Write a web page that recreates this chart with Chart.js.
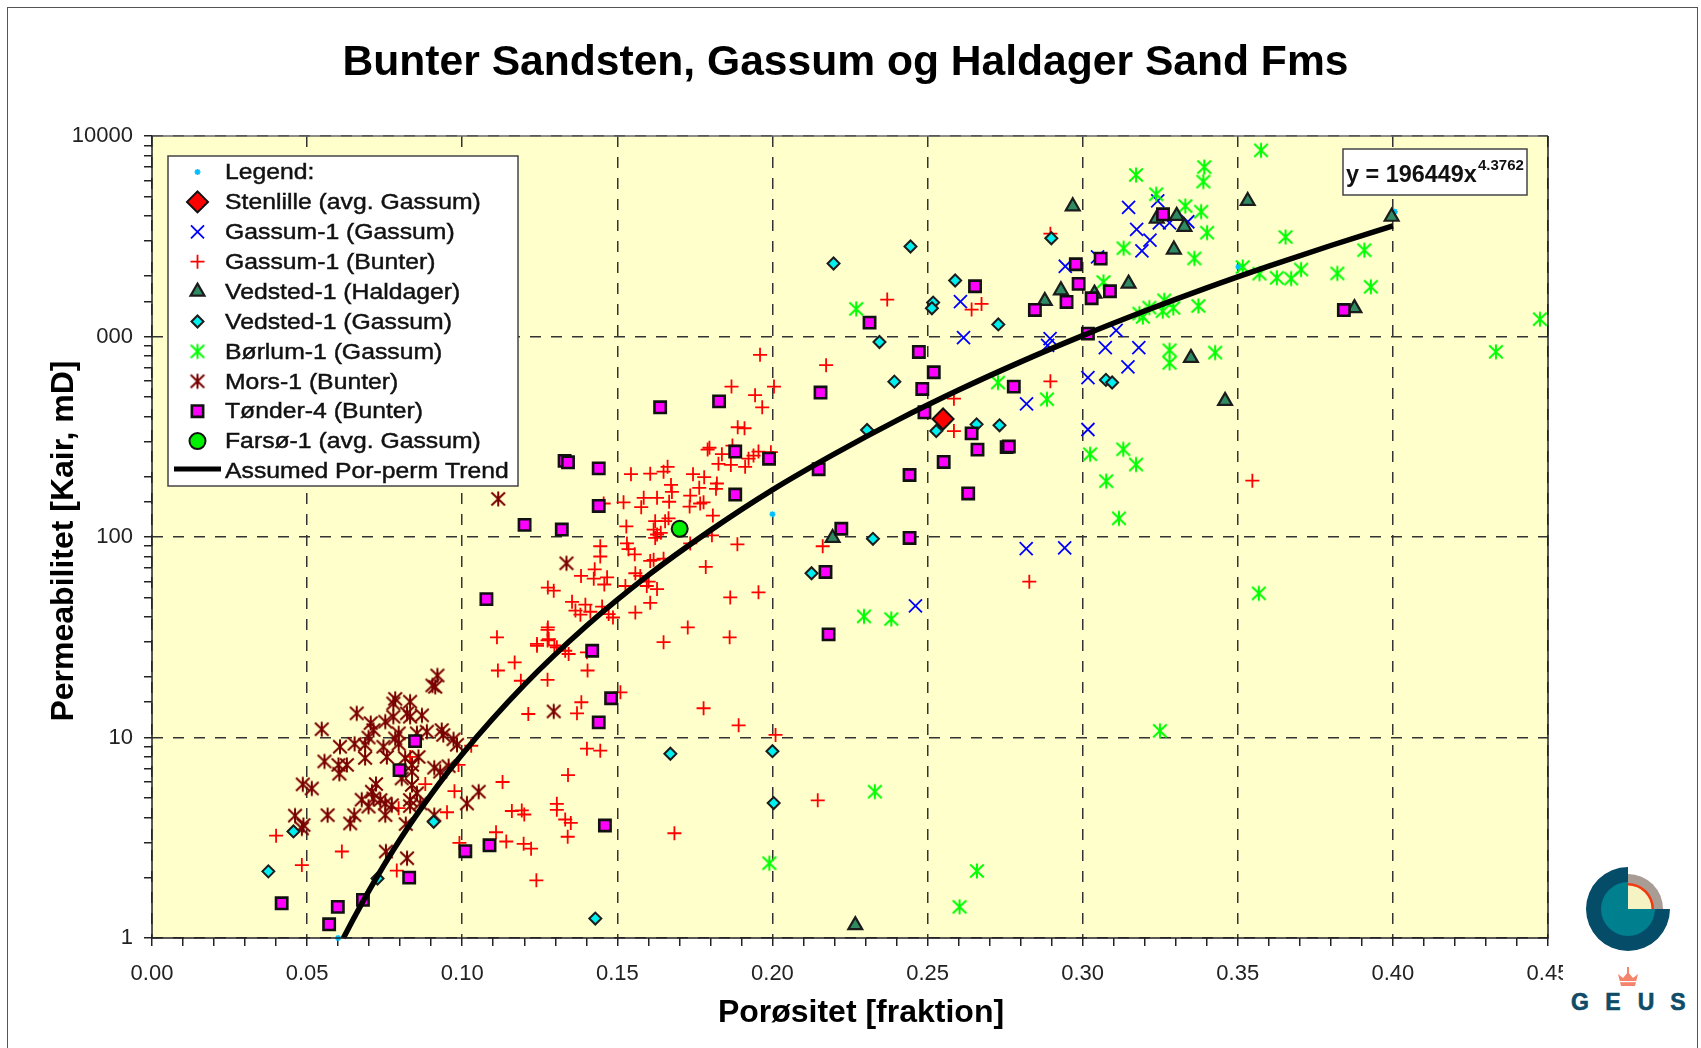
<!DOCTYPE html>
<html lang="da"><head><meta charset="utf-8"><title>Bunter Sandsten, Gassum og Haldager Sand Fms</title>
<script src="https://cdn.jsdelivr.net/npm/chart.js@4/dist/chart.umd.js"></script>
<style>
html,body{margin:0;padding:0;background:#fff;overflow:hidden}
#wrap{position:relative;width:1701px;height:1048px;overflow:hidden}
canvas#c{position:absolute;left:0;top:0}
#frame{position:absolute;left:7px;top:7px;width:1691px;height:1100px;border:1.5px solid #555;box-sizing:border-box;pointer-events:none}
#logo{position:absolute;left:1563px;top:860px;width:134px;height:188px;background:#fff}
</style></head><body>
<div id="wrap">
<canvas id="c" width="1701" height="1048"></canvas>
<div id="frame"></div>
<svg id="logo" viewBox="1563 860 134 188" xmlns="http://www.w3.org/2000/svg">
  <path d="M1628 867 A42 42 0 1 0 1670 909 L1628 909 Z" fill="#054C68"/>
  <path d="M1628 874 A35 35 0 0 1 1663 909 L1628 909 Z" fill="#A89C94"/>
  <path d="M1628 883 A26 26 0 0 1 1654 909 L1628 909 Z" fill="#F03A10"/>
  <path d="M1628 885.5 A23.5 23.5 0 0 1 1651.500 909 L1628 909 Z" fill="#F5F2C4"/>
  <path d="M1628 882 A27 27 0 1 0 1655 909 L1628 909 Z" fill="#007F8F"/>
  <path d="M1621 986 L1618 974 L1623 978 L1628 972 L1633 978 L1638 974 L1635 986 Z" fill="#F4846C"/>
  <rect x="1627" y="967" width="2" height="6" fill="#F4846C"/>
  <rect x="1619" y="981" width="18" height="1.2" fill="#fff"/>
  <g font-family="Liberation Sans" font-weight="700" font-size="23" fill="#0E4C68" text-anchor="middle" stroke="#0E4C68" stroke-width="0.6">
  <text x="1580" y="1010">G</text>
  <text x="1613" y="1010">E</text>
  <text x="1646" y="1010">U</text>
  <text x="1678" y="1010">S</text>
  </g>
</svg>
</div>
<script>
// ---- labels -------------------------------------------------------------
const titleText = "Bunter Sandsten, Gassum og Haldager Sand Fms";
const xTitle = "Porøsitet [fraktion]";
const yTitle = "Permeabilitet [Kair, mD]";
const yTickLabels = [[1,"1"],[10,"10"],[100,"100"],[1000,"000"],[10000,"10000"]];
const seriesNames = ["Legend:","Stenlille (avg. Gassum)","Gassum-1 (Gassum)","Gassum-1 (Bunter)","Vedsted-1 (Haldager)","Vedsted-1 (Gassum)","Børlum-1 (Gassum)","Mors-1 (Bunter)","Tønder-4 (Bunter)","Farsø-1 (avg. Gassum)","Assumed Por-perm Trend"];
const equationText = "y = 196449x";
const equationExp = "4.3762";

// ---- values [porosity, permeability] -------------------------------------
const legendPts = [[0.06,1],[0.20,130],[0.3502,2230],[0.4006,4200]];
const stenlille = [[0.255,388]];
const farso = [[0.1701,110]];
const trend = [[0.0617,1],[0.065,1.25],[0.07,1.73],[0.08,3.11],[0.09,5.21],[0.10,8.26],[0.12,18.3],[0.14,36.0],[0.16,64.6],[0.18,108],[0.20,172],[0.22,260],[0.24,381],[0.26,541],[0.28,748],[0.30,1011],[0.32,1341],[0.34,1750],[0.36,2246],[0.38,2847],[0.40,3564]];
const gassumGassum = [[0.3148,4416],[0.3242,4750],[0.3174,3430],[0.3217,3025],[0.3191,2675],[0.3339,3740],[0.3280,3690],[0.3247,3690],[0.3048,2496],[0.2944,2243],[0.2895,977],[0.2887,905],[0.3108,1075],[0.3073,881],[0.3181,881],[0.3146,706],[0.3017,624],[0.2819,462],[0.3017,344],[0.2606,1495],[0.2616,989],[0.2818,87.5],[0.2942,88.4],[0.2461,45.4]];
const gassumBunter = [[0.2370,1530],[0.2674,1455],[0.2642,1364],[0.2173,720],[0.2585,490],[0.2585,338],[0.2896,598],[0.2896,3260],[0.3547,191],[0.2828,59.9],[0.2162,90],
[0.1960,811],[0.1868,563],[0.2005,563],[0.1944,510],[0.1967,444],[0.1888,353],[0.1910,349],[0.1797,279],[0.1791,273],[0.1837,259],[0.1871,286],[0.1826,232],[0.1955,267],[0.1939,255],[0.1923,246],[0.1866,229],[0.1912,224],[0.1995,265],
[0.1662,224],[0.1649,212],[0.1606,207],[0.1544,206],[0.1744,206],[0.1780,199],[0.1821,185],[0.1818,174],[0.1673,182],[0.1676,168],[0.1764,176],[0.1735,161],[0.1585,157],[0.1628,157],[0.1667,150],[0.1520,149],[0.1456,147],[0.1577,141],[0.1733,142],[0.1767,147],[0.1778,149],[0.1808,128],[0.1665,124],[0.1654,120],[0.1622,120],[0.1529,113],[0.1617,109],[0.1628,103],[0.1622,99],[0.1640,105],[0.1805,102],[0.1887,92],[0.1735,93],[0.1531,93],[0.1536,87],[0.1556,82],[0.1445,90],[0.1445,80],[0.1649,78],[0.1617,77],[0.1606,76],[0.1785,71],[0.1427,69],[0.1558,66],[0.1383,64],[0.1424,62],[0.1467,63],[0.1458,58],[0.1574,64],[0.1601,60],[0.1526,57],[0.1595,57],[0.1628,55],[0.1276,56],[0.1295,54],[0.1864,50],[0.1955,53],[0.1606,47],[0.1558,42],[0.1354,47.5],[0.1397,46],[0.1451,45],[0.1365,43],[0.1413,42.4],[0.1381,41],[0.1472,41.3],[0.1486,39.7],[0.1727,35.4],[0.1862,31.6],[0.1649,29.9],[0.1276,35.4],[0.1279,31],[0.1241,29.3],[0.1297,28.8],
[0.1275,34.4],[0.1112,31.6],[0.1275,30.5],[0.1241,28.7],[0.1305,28.2],[0.1332,27.1],[0.1343,26.1],[0.1402,26.6],[0.1169,23.7],[0.1115,21.6],[0.1404,21.6],[0.1189,19.2],[0.1275,19.4],[0.1510,16.8],[0.1384,15],[0.1778,14],[0.1370,13.2],[0.1213,13.1],[0.1891,11.5],[0.2010,10.3],[0.1029,9.1],[0.1402,8.8],[0.1445,8.6],[0.0988,7.3],[0.1130,6.0],[0.1341,6.5],[0.0975,5.4],[0.2146,4.86],[0.1160,4.3],[0.1192,4.33],[0.1200,4.13],[0.1305,4.67],[0.1305,4.36],[0.1332,3.9],[0.1350,3.75],[0.1340,3.2],[0.1684,3.33],[0.1109,3.37],[0.1142,3.03],[0.1198,2.95],[0.1222,2.79],[0.0991,2.98],[0.1239,1.94],
[0.0881,5.86],[0.0951,4.24],[0.0795,4.44],[0.0832,8],[0.0400,3.24],[0.0612,2.7],[0.0483,2.31],[0.0789,2.17]];
const vedstedHaldager = [[0.2968,4467],[0.3239,3880],[0.3303,4000],[0.3328,3530],[0.3294,2717],[0.3148,1838],[0.3532,4750],[0.2930,1702],[0.2878,1506],[0.3038,1638],[0.3349,783],[0.3459,478],[0.3876,1387],[0.3996,3960],[0.2194,99],[0.2267,1.16]];
const vedstedGassum = [[0.2445,2815],[0.2197,2315],[0.2589,1904],[0.2518,1478],[0.2514,1385],[0.2728,1150],[0.2345,940],[0.2393,596],[0.2899,3095],[0.3075,608],[0.3095,590],[0.2305,342],[0.2528,338],[0.2658,365],[0.2732,361],[0.2324,98],[0.2126,66],[0.1671,8.3],[0.2000,8.55],[0.2004,4.71],[0.1429,1.25],[0.0456,3.4],[0.0375,2.15],[0.0908,3.8],[0.0727,1.98]];
const borlum = [[0.3172,6400],[0.3237,5130],[0.3392,7010],[0.3389,5930],[0.3331,4480],[0.3382,4200],[0.3401,3300],[0.3575,8490],[0.3132,2760],[0.3360,2455],[0.3067,1873],[0.3654,3140],[0.3516,2225],[0.3570,2060],[0.3626,1963],[0.3672,1947],[0.3704,2160],[0.3263,1518],[0.3215,1395],[0.3183,1302],[0.3194,1253],[0.3258,1338],[0.3292,1390],[0.3373,1422],[0.3280,855],[0.3280,739],[0.3427,832],[0.2727,590],[0.2885,487],[0.3024,259],[0.3131,274],[0.3172,230],[0.3076,190],[0.3117,124],[0.3568,52.4],[0.3249,10.8],[0.2295,40.2],[0.2383,39],[0.2270,1374],[0.3908,2698],[0.3929,1772],[0.3821,2066],[0.4474,1222],[0.4332,839],[0.1990,2.36],[0.2330,5.37],[0.2659,2.16],[0.2603,1.43]];
const mors = [[0.0920,20.4],[0.0904,18.2],[0.0913,17.9],[0.0784,15.6],[0.0778,14.8],[0.0832,15.1],[0.0822,13.2],[0.0832,12.7],[0.0870,12.9],[0.0660,13.2],[0.0705,11.8],[0.0752,12],[0.0778,12.7],[0.0547,11],[0.0714,10.9],[0.0698,10],[0.0795,10.5],[0.0784,9.9],[0.0886,10.7],[0.0934,10.9],[0.0939,10.3],[0.0854,10.5],[0.0972,9.8],[0.0983,9.2],[0.0653,9.3],[0.0687,9.2],[0.0795,9.3],[0.0606,9],[0.0746,9],[0.0757,8],[0.0687,7.9],[0.0816,7.9],[0.0859,8],[0.0556,7.6],[0.0601,7.3],[0.0628,7.3],[0.0604,6.6],[0.0838,7.3],[0.0838,6.75],[0.0910,7.07],[0.0929,6.75],[0.0956,7.2],[0.0805,6.25],[0.0486,5.84],[0.0515,5.57],[0.0722,5.86],[0.0838,5.8],[0.0709,5.37],[0.0676,4.9],[0.0714,4.97],[0.0698,4.52],[0.0736,4.88],[0.0752,4.69],[0.0773,4.6],[0.0752,4.1],[0.0854,5.27],[0.0832,4.88],[0.0832,4.55],[0.0865,4.69],[0.1053,5.37],[0.1015,4.69],[0.0910,4.1],[0.0461,4.08],[0.0566,4.1],[0.0652,4.1],[0.0639,3.73],[0.0488,3.66],[0.0483,3.52],[0.0818,3.7],[0.0754,2.7],[0.0822,2.5],[0.1336,74],[0.1116,155],[0.1295,13.5]];
const tonder = [[0.3842,1356],[0.3259,4075],[0.3058,2449],[0.2978,2295],[0.2987,1832],[0.3088,1683],[0.3029,1553],[0.2948,1489],[0.2846,1358],[0.3017,1035],[0.2778,563],[0.2755,281],[0.2313,1174],[0.2472,838],[0.2520,664],[0.2483,548],[0.2490,419],[0.2642,329],[0.2661,273],[0.2653,1783],[0.2155,526],[0.2552,237],[0.2442,204],[0.2631,165],[0.2222,110],[0.2442,99],[0.2171,67],[0.2181,32.7],[0.2762,283],[0.1638,444],[0.1828,475],[0.1880,267],[0.1989,246],[0.2149,218],[0.1880,163],[0.1330,240],[0.1341,236],[0.1440,220],[0.1440,143],[0.1201,115],[0.1321,109],[0.1078,49],[0.1419,27.1],[0.1480,15.7],[0.1440,11.9],[0.1460,3.64],[0.1088,2.9],[0.1010,2.71],[0.0848,9.6],[0.0798,6.88],[0.0829,2.0],[0.0680,1.55],[0.0599,1.43],[0.0418,1.49],[0.0571,1.17]];

// ---- helpers --------------------------------------------------------------
const toXY = a => a.map(p => ({x:p[0], y:p[1]}));
function asterisk(color){
  const s = 18, c = document.createElement('canvas');
  c.width = s; c.height = s;
  const g = c.getContext('2d'), m = s/2;
  g.strokeStyle = color; g.lineWidth = 2; g.lineCap = 'butt';
  g.beginPath();
  g.moveTo(m, m-7.5); g.lineTo(m, m+7.5);
  g.moveTo(m-6.8, m-6.5); g.lineTo(m+6.8, m+6.5);
  g.moveTo(m-6.8, m+6.5); g.lineTo(m+6.8, m-6.5);
  g.stroke();
  return c;
}
const FONT = "'Liberation Sans', Arial, sans-serif";
const mk = (name, data, order, style, radius, fill, stroke, bw, extra) => Object.assign({
  label:name, data:toXY(data), order, showLine:false, clip:false,
  pointStyle:style, pointRadius:radius, pointHoverRadius:radius,
  pointBackgroundColor:fill, pointBorderColor:stroke, pointBorderWidth:bw,
  backgroundColor:fill, borderColor:stroke
}, extra||{});

const datasets = [
  mk(seriesNames[0], legendPts, 11, 'star', 3, '#00BFFF', '#00BFFF', 1.5),
  mk(seriesNames[1], stenlille, 2, 'rectRot', 10.5, '#FF0000', '#111', 2),
  mk(seriesNames[2], gassumGassum, 10, 'crossRot', 9.2, '#0000FF', '#0000FF', 1.8),
  mk(seriesNames[3], gassumBunter, 9, 'cross', 7, '#FF0000', '#FF0000', 1.8),
  mk(seriesNames[4], vedstedHaldager, 5, 'triangle', 8, '#2E8B62', '#1c1c1c', 2.2),
  mk(seriesNames[5], vedstedGassum, 6, 'rectRot', 6, '#00F0F0', '#1c1c1c', 2),
  mk(seriesNames[6], borlum, 8, asterisk('#00FF00'), 7, '#00FF00', '#00FF00', 1),
  mk(seriesNames[7], mors, 7, asterisk('#7A0000'), 7, '#7A0000', '#7A0000', 1),
  mk(seriesNames[8], tonder, 4, 'rect', 8, '#FF00FF', '#111', 2.6),
  mk(seriesNames[9], farso, 1, 'circle', 8, '#00F000', '#111', 2),
  { label:seriesNames[10], data:toXY(trend), order:3, showLine:true, pointRadius:0, borderColor:'#000', backgroundColor:'#000', borderWidth:5.5, cubicInterpolationMode:'monotone', clip:false }
];

const plotFrame = {
  id:'plotFrame',
  beforeDraw(chart){
    const {ctx, chartArea:a} = chart;
    ctx.save(); ctx.fillStyle = '#FFFFCC'; ctx.fillRect(a.left, a.top, a.width, a.height); ctx.restore();
  },
  afterDatasetsDraw(chart){
    const {ctx, chartArea:a} = chart;
    ctx.save();
    ctx.strokeStyle = '#666'; ctx.lineWidth = 1.5;
    ctx.beginPath(); ctx.moveTo(a.left, a.top); ctx.lineTo(a.right, a.top); ctx.stroke();
    ctx.strokeStyle = '#222'; ctx.lineWidth = 1.5;
    ctx.beginPath(); ctx.moveTo(a.left, a.top); ctx.lineTo(a.left, a.bottom); ctx.lineTo(a.right, a.bottom); ctx.lineTo(a.right, a.top); ctx.stroke();
    ctx.restore();
  }
};

// legend and equation box, both drawn inside the plot
const boxes = {
  id:'boxes',
  afterLayout(chart){ if (chart.titleBlock){ chart.titleBlock.left = -5; chart.titleBlock.right = 1696; } },
  afterDraw(chart){
    const ctx = chart.ctx;
    ctx.save();
    const L = 168, T = 156, W = 350, H = 330;
    ctx.fillStyle = '#fff'; ctx.strokeStyle = '#444'; ctx.lineWidth = 1.5;
    ctx.fillRect(L,T,W,H); ctx.strokeRect(L,T,W,H);
    const mx = 197.5, tx = 225;
    ctx.textBaseline = 'middle'; ctx.textAlign = 'left';
    ctx.font = "22.5px " + FONT;
    chart.data.datasets.forEach((d,i) => {
      const y = 172 + i*29.9;
      ctx.save();
      ctx.translate(tx, y+1); ctx.scale(1.1, 1);
      ctx.fillStyle = '#111'; ctx.strokeStyle = '#111'; ctx.lineWidth = 0.45;
      ctx.fillText(d.label, 0, 0); ctx.strokeText(d.label, 0, 0);
      ctx.restore();
      if (i === 10){
        ctx.strokeStyle = '#000'; ctx.lineWidth = 5;
        ctx.beginPath(); ctx.moveTo(174, y-2); ctx.lineTo(221, y-2); ctx.stroke();
      } else {
        ctx.fillStyle = d.pointBackgroundColor; ctx.strokeStyle = d.pointBorderColor; ctx.lineWidth = d.pointBorderWidth;
        Chart.helpers.drawPoint(ctx, {pointStyle:d.pointStyle, radius:d.pointRadius, borderWidth:d.pointBorderWidth, rotation:0}, mx, y);
      }
    });
    // equation
    ctx.fillStyle = '#fff'; ctx.strokeStyle = '#444'; ctx.lineWidth = 1.5;
    ctx.fillRect(1343,149,184,46); ctx.strokeRect(1343,149,184,46);
    ctx.fillStyle = '#111'; ctx.textBaseline = 'alphabetic';
    ctx.font = "bold 23.4px " + FONT;
    ctx.fillText(equationText, 1346, 182);
    ctx.font = "bold 15px " + FONT;
    ctx.fillText(equationExp, 1478, 170);
    ctx.restore();
  }
};

const isPow10 = v => Math.abs(Math.log10(v) - Math.round(Math.log10(v))) < 1e-6;
const isMajX = v => Math.abs(v*20 - Math.round(v*20)) < 1e-6;

new Chart(document.getElementById('c'), {
  type:'scatter',
  data:{datasets},
  plugins:[plotFrame, boxes],
  options:{
    responsive:false, animation:false, devicePixelRatio:1,
    layout:{padding:{left:0,right:153,top:0,bottom:0}},
    plugins:{
      legend:{display:false}, tooltip:{enabled:false},
      title:{display:true, text:titleText, color:'#000', align:'center',
             font:{family:FONT, size:42.6, weight:'bold', lineHeight:1.2},
             padding:{top:38,bottom:47}}
    },
    scales:{
      x:{
        type:'linear', min:0, max:0.45,
        afterFit(s){
          s.height = 110;
          if(!s._shifted){ s._shifted = true; const o = s.drawTitle; s.drawTitle = function(){ const c=this.ctx; c.save(); c.translate(11,0); o.call(this); c.restore(); }; }
        },
        border:{display:false, dash:[11,10]},
        grid:{drawOnChartArea:true, drawTicks:true, tickLength:8, tickColor:'#222', tickWidth:1.5, tickBorderDash:[],
              color:c => isMajX(c.tick.value) ? '#333' : 'rgba(0,0,0,0)', lineWidth:1.5},
        ticks:{stepSize:0.01, autoSkip:false, maxRotation:0, color:'#222', padding:15,
               font:{family:FONT,size:22},
               callback:v => isMajX(v) ? Number(v).toFixed(2) : ''},
        title:{display:true, text:xTitle, color:'#000', font:{family:FONT,size:32,weight:'bold',lineHeight:1.2}, padding:{top:0,bottom:16}}
      },
      y:{
        type:'logarithmic', min:1, max:10000,
        afterFit(s){
          s.width = 152;
          if(!s._shifted){ s._shifted = true; const o = s.drawTitle; s.drawTitle = function(){ const c=this.ctx; c.save(); c.translate(0,4); o.call(this); c.restore(); }; }
        },
        border:{display:false, dash:[11,10]},
        grid:{drawOnChartArea:true, drawTicks:true, tickLength:8, tickColor:'#222', tickWidth:1.5, tickBorderDash:[],
              color:c => isPow10(c.tick.value) ? '#333' : 'rgba(0,0,0,0)', lineWidth:1.5},
        ticks:{autoSkip:false, color:'#222', padding:11, font:{family:FONT,size:22},
               callback:v => { const f = yTickLabels.find(t => t[0] === v); return f ? f[1] : ''; }},
        title:{display:true, text:yTitle, color:'#000', font:{family:FONT,size:32,weight:'bold',lineHeight:1.2}, padding:{top:45,bottom:0}}
      }
    }
  }
});
</script>
</body></html>
